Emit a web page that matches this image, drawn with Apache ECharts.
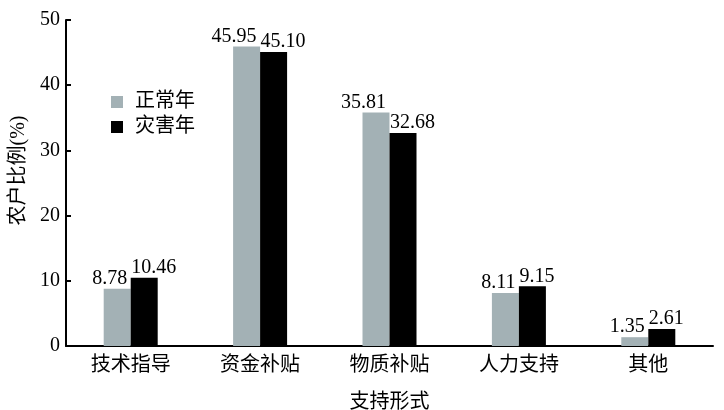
<!DOCTYPE html>
<html><head><meta charset="utf-8">
<script src="https://cdn.jsdelivr.net/npm/echarts@6/dist/echarts.min.js"></script>
<style>html,body{margin:0;padding:0;background:#fff}#c{width:724px;height:410px}</style>
</head><body><div id="c"></div>
<script>
const categories = ['技术指导', '资金补贴', '物质补贴', '人力支持', '其他'];
const normalYear = [8.78, 45.95, 35.81, 8.11, 1.35];
const disasterYear = [10.46, 45.10, 32.68, 9.15, 2.61];
const seriesNames = ['正常年', '灾害年'];
const yTicks = { min: 0, max: 50, interval: 10 };
const FONT = '"Liberation Serif", "Times New Roman", "Noto Sans CJK SC", serif';

const chart = echarts.init(document.getElementById('c'));
chart.setOption({
  animation: false,
  backgroundColor: '#fff',
  textStyle: { fontFamily: FONT, color: '#000' },
  grid: { left: 66, right: 11, top: 20, bottom: 64, containLabel: false, outerBoundsMode: 'none' },
  legend: {
    orient: 'vertical', left: 106, top: 87,
    itemWidth: 12, itemHeight: 12, itemGap: 5,
    icon: 'rect',
    textStyle: { fontFamily: FONT, fontSize: 20, color: '#000', padding: [0, 0, 0, 7] },
    data: seriesNames
  },
  xAxis: {
    type: 'category', data: categories,
    name: '支持形式', nameLocation: 'middle', nameGap: 47,
    nameTextStyle: { fontFamily: FONT, fontSize: 20, color: '#000' },
    axisLine: { lineStyle: { color: '#000', width: 2 } },
    axisTick: { inside: true, length: 5, lineStyle: { color: '#000', width: 2 } },
    axisLabel: { fontFamily: FONT, fontSize: 20, color: '#000', margin: 10 }
  },
  yAxis: {
    type: 'value', min: yTicks.min, max: yTicks.max, interval: yTicks.interval,
    name: '农户比例(%)', nameLocation: 'middle', nameGap: 33, nameRotate: 90,
    nameTextStyle: { fontFamily: FONT, fontSize: 20, color: '#000', padding: [0, 0, 0, 25] },
    axisLine: { show: true, lineStyle: { color: '#000', width: 2 } },
    axisTick: { show: true, inside: true, length: 5, lineStyle: { color: '#000', width: 2 } },
    axisLabel: { fontFamily: FONT, fontSize: 20, color: '#000', margin: 6 },
    splitLine: { show: false }
  },
  series: [
    {
      name: seriesNames[0], type: 'bar', data: normalYear,
      barWidth: 27, barGap: '0%',
      itemStyle: { color: '#a3b1b5' },
      label: {
        show: true, position: 'top', distance: 0, align: 'right', offset: [10, 0],
        fontFamily: FONT, fontSize: 20, color: '#000',
        formatter: p => p.value.toFixed(2)
      }
    },
    {
      name: seriesNames[1], type: 'bar', data: disasterYear,
      barWidth: 27, barGap: '0%',
      itemStyle: { color: '#000' },
      label: {
        show: true, position: 'top', distance: 0, align: 'left', offset: [-13, 0],
        fontFamily: FONT, fontSize: 20, color: '#000',
        formatter: p => p.value.toFixed(2)
      }
    }
  ]
});
</script></body></html>
